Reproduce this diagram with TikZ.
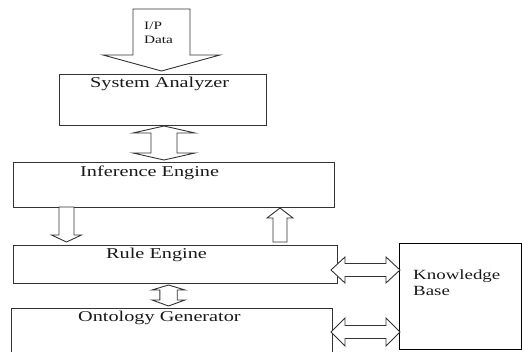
\documentclass[tikz,border=0pt]{standalone}
\usepackage{fontspec}
\setmainfont{Liberation Serif}
\usepackage{graphicx}
\newcommand\wtext[1]{\scalebox{1.35}[1]{#1}}
% vertical double block arrow: cx, ytip1, ybase1, ybase2, ytip2, head half width, shaft half width
\newcommand\vdblarrow[7]{%
  \draw[blk] (#1,#2) -- (#1+#6,#3) -- (#1+#7,#3) -- (#1+#7,#4) -- (#1+#6,#4) -- (#1,#5)
    -- (#1-#6,#4) -- (#1-#7,#4) -- (#1-#7,#3) -- (#1-#6,#3) -- cycle;}
% horizontal double block arrow: cy, xtip1, xbase1, xbase2, xtip2, head half height, shaft half height
\newcommand\hdblarrow[7]{%
  \draw[blk] (#2,#1) -- (#3,#1-#6) -- (#3,#1-#7) -- (#4,#1-#7) -- (#4,#1-#6) -- (#5,#1)
    -- (#4,#1+#6) -- (#4,#1+#7) -- (#3,#1+#7) -- (#3,#1+#6) -- cycle;}
% single vertical block arrow: cx, ytail, ybase, ytip, head half width, shaft half width
\newcommand\vsglarrow[6]{%
  \draw[blk] (#1-#6,#2) -- (#1+#6,#2) -- (#1+#6,#3) -- (#1+#5,#3) -- (#1,#4)
    -- (#1-#5,#3) -- (#1-#6,#3) -- cycle;}
\tikzset{
  box/.style={draw=black!80, line width=0.9pt, inner sep=0pt, outer sep=0pt, anchor=north west},
  lbl/.style={inner sep=0pt, anchor=base west, text=black!90, font=\fontsize{15}{18}\selectfont},
  kblbl/.style={inner sep=0pt, anchor=base west, text=black!90, font=\fontsize{14}{17}\selectfont},
  iplbl/.style={inner sep=0pt, anchor=base west, text=black!90, font=\fontsize{11.3}{14}\selectfont},
  blk/.style={draw=black!80, line width=0.9pt, fill=white, line join=miter},
}
\begin{document}
\begin{tikzpicture}[x=1pt,y=-1pt]
\useasboundingbox (0,0) rectangle (522,352);
\clip (0,0) rectangle (522,352);

% boxes
\node[box, minimum width=207pt, minimum height=51pt] (sa) at (59,74) {};
\node[box, minimum width=321pt, minimum height=45pt] (ie) at (13,162) {};
\node[box, minimum width=324pt, minimum height=38pt] (re) at (13,245) {};
\node[box, minimum width=321pt, minimum height=60pt] (og) at (11,308) {};
\node[box, draw=black, line width=0.9pt, minimum width=122pt, minimum height=106pt] (kb) at (399,243) {};

% labels
\node[lbl] (saT) at (90,87.5) {\wtext{System Analyzer}};
\node[lbl] (ieT) at (80,177) {\wtext{Inference Engine}};
\node[lbl] (reT) at (106,258.5) {\wtext{Rule Engine}};
\node[lbl] (ogT) at (78,321.5) {\wtext{Ontology Generator}};
\node[kblbl] (kbT1) at (413,279.5) {\wtext{Knowledge}};
\node[kblbl] (kbT2) at (413,296) {\wtext{Base}};

% input arrow
\vsglarrow{161.5}{9}{55}{71}{58.5}{28.5}
\node[iplbl] (ipT1) at (144,30) {\wtext{I/P}};
\node[iplbl] (ipT2) at (144,43.5) {\wtext{Data}};

% SA <-> IE
\vdblarrow{164}{126}{133}{153}{160}{31}{13}
% IE -> RE
\vsglarrow{66.5}{207}{235}{242}{15}{7.5}
% RE -> IE
\vsglarrow{280}{242}{218}{208}{13}{7}
% RE <-> OG
\vdblarrow{168.5}{285}{290}{300}{306}{16.5}{8.7}
% RE <-> KB
\hdblarrow{270}{331}{345}{386}{400}{13}{6.5}
% OG <-> KB
\hdblarrow{332}{331}{345}{386}{400}{14}{6.5}
\end{tikzpicture}
\end{document}
